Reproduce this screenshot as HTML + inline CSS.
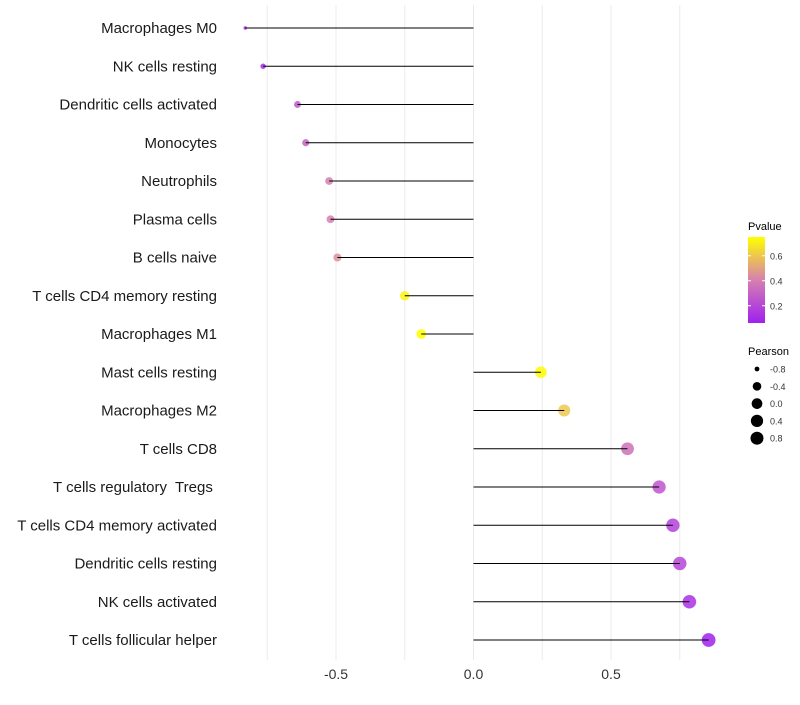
<!DOCTYPE html>
<html><head><meta charset="utf-8"><style>
body{margin:0;background:#fff;}
svg text{font-family:"Liberation Sans",sans-serif;white-space:pre;}
</style></head><body>
<svg id="chart" width="800" height="700" xmlns="http://www.w3.org/2000/svg"></svg>
<script>
const categories=["Macrophages M0","NK cells resting","Dendritic cells activated","Monocytes","Neutrophils","Plasma cells","B cells naive","T cells CD4 memory resting","Macrophages M1","Mast cells resting","Macrophages M2","T cells CD8","T cells regulatory  Tregs ","T cells CD4 memory activated","Dendritic cells resting","NK cells activated","T cells follicular helper"];
const pearson=[-0.83,-0.765,-0.64,-0.61,-0.525,-0.52,-0.495,-0.25,-0.19,0.245,0.33,0.56,0.675,0.725,0.75,0.785,0.855];
const pvalue=[0.07,0.1,0.25,0.3,0.4,0.4,0.45,0.72,0.75,0.74,0.6,0.35,0.25,0.18,0.2,0.12,0.06];
const xTicks=[-0.5,0.0,0.5];
const xTickLabels=["-0.5","0.0","0.5"];
const pTicks=[0.2,0.4,0.6];
const sizeLegend=[-0.8,-0.4,0.0,0.4,0.8];

const svg=document.getElementById('chart');
const NS="http://www.w3.org/2000/svg";
const X=v=>473.5+v*275;
const Y=i=>28+i*38.25;
const R=v=>1.7+5.2*Math.sqrt(Math.max(0,(v+0.83)/1.685));
const P=p=>237+(0.75-p)*625/5;
function col(p){
  const t=Math.max(0,Math.min(1,(p-0.06)/0.69));
  const a=[160,32,240],b=[214,128,176],c=[255,255,0];
  let s,e,u; if(t<0.5){s=a;e=b;u=t/0.5}else{s=b;e=c;u=(t-0.5)/0.5}
  return `rgb(${s.map((v,k)=>Math.round(v+(e[k]-v)*u)).join(',')})`;
}
function el(tag,attrs,parent){const e=document.createElementNS(NS,tag);for(const k in attrs)e.setAttribute(k,attrs[k]);(parent||svg).appendChild(e);return e;}

for(let v=-0.75;v<=0.76;v+=0.25){
  const g=el('line',{x1:X(v),x2:X(v),y1:5,y2:660,stroke:'#ebebeb','stroke-width':1});
  
  
}
xTicks.forEach((v,i)=>{
  const t=el('text',{x:X(v),y:679,'text-anchor':'middle','font-size':14,fill:'#333'});
  t.textContent=xTickLabels[i];
  
  
});
categories.forEach((c,i)=>{
  const t=el('text',{x:217,y:Y(i)+5,'text-anchor':'end','font-size':15,fill:'#1a1a1a'});
  t.textContent=c;
  
  
  const pt=el('circle',{cx:X(pearson[i]),cy:Y(i),r:R(pearson[i]),fill:col(pvalue[i]),'fill-opacity':0.85});
  
  
  const ln=el('line',{x1:X(0),x2:X(pearson[i]),y1:Y(i),y2:Y(i),stroke:'#000','stroke-width':1});
  
  
});
const defs=el('defs',{});
const lg=el('linearGradient',{id:'pg',x1:0,y1:1,x2:0,y2:0},defs);
[0,0.25,0.5,0.75,1].forEach(o=>el('stop',{offset:o,'stop-color':col(0.06+o*0.69)},lg));
let tt=el('text',{x:748,y:230,'font-size':11,fill:'#000'});tt.textContent='Pvalue';


const bar=el('rect',{x:748,y:237,width:17,height:86,fill:'url(#pg)'});


pTicks.forEach(p=>{
  el('line',{x1:748,x2:751,y1:P(p),y2:P(p),stroke:'#fff'});
  el('line',{x1:762,x2:765,y1:P(p),y2:P(p),stroke:'#fff'});
  const t=el('text',{x:770,y:P(p)+3.5,'font-size':9,fill:'#333'});t.textContent=p.toFixed(1);
  
  
});
tt=el('text',{x:748,y:355,'font-size':11,fill:'#000'});tt.textContent='Pearson';


sizeLegend.forEach((v,i)=>{
  const y=369+i*17.3;
  const c=el('circle',{cx:757,cy:y,r:Math.min(R(v),6.5),fill:'#000'});
  
  
  const t=el('text',{x:770,y:y+3.5,'font-size':9,fill:'#333'});t.textContent=v.toFixed(1);
  
  
});
</script>
</body></html>
